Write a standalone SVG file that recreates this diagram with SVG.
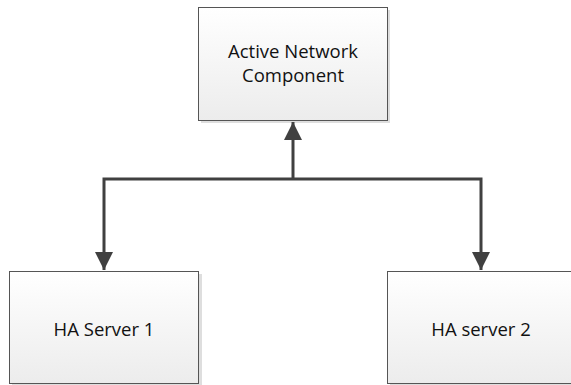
<svg xmlns="http://www.w3.org/2000/svg" width="571" height="385" viewBox="0 0 571 385">
<style>
.box{fill:url(#g);stroke:#555;stroke-width:1}
.sh{fill:#dedede}
.t{font-family:"Open Sans","Liberation Sans",sans-serif;font-size:18.5px;fill:#111;text-anchor:middle}
.c{fill:none;stroke:#404040;stroke-width:3}
</style>
<defs>
<linearGradient id="g" x1="0" y1="0" x2="0" y2="1">
<stop offset="0" stop-color="#ffffff"/>
<stop offset="1" stop-color="#ececec"/>
</linearGradient>
<marker id="a" viewBox="0 0 10 10" refX="10" refY="5" markerWidth="6" markerHeight="6" markerUnits="strokeWidth" orient="auto">
<path d="M0,0 L10,5 L0,10 z" fill="#404040"/>
</marker>
</defs>
<g id="n1">
<rect class="sh" x="201" y="10" width="189" height="113"/>
<rect class="box" x="198.5" y="7.5" width="189" height="113"/>
<text class="t" x="293" y="58">Active Network</text>
<text class="t" x="293" y="82">Component</text>
</g>
<g id="n2">
<rect class="sh" x="12" y="274" width="190" height="113"/>
<rect class="box" x="9.5" y="271.5" width="189" height="112"/>
<text class="t" x="104" y="336">HA Server 1</text>
</g>
<g id="n3">
<rect class="sh" x="390" y="274" width="190" height="113"/>
<rect class="box" x="387.5" y="271.5" width="189" height="112"/>
<text class="t" x="481" y="336">HA server 2</text>
</g>
<g id="connectors">
<path class="c" d="M293,179 L293,122" marker-end="url(#a)"/>
<path class="c" d="M293,179 L104,179 L104,270" marker-end="url(#a)"/>
<path class="c" d="M293,179 L481,179 L481,270" marker-end="url(#a)"/>
</g>
</svg>
